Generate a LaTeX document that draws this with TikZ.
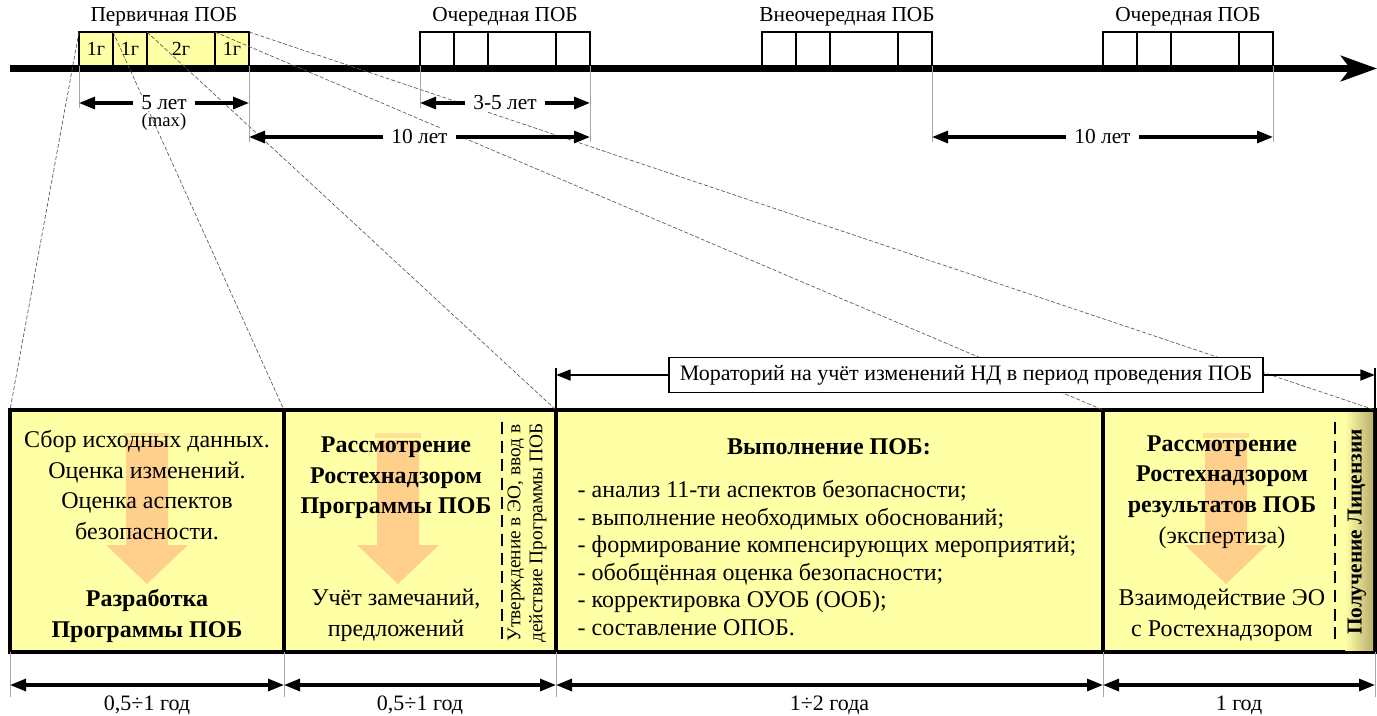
\documentclass[tikz,border=0pt]{standalone}
\usepackage{fontspec}
\setmainfont{Liberation Serif}
\usetikzlibrary{calc,positioning,arrows.meta}

\definecolor{pobyellow}{RGB}{255,255,165}
\definecolor{pobpeach}{RGB}{255,170,120}
\definecolor{pobolive}{RGB}{185,175,110}

\begin{document}
\begin{tikzpicture}[x=0.75pt,y=-0.75pt,
    seg/.style={draw,line width=1.5pt,minimum height=25.5pt,inner sep=0pt,outer sep=0pt,
        anchor=south west,font=\fontsize{15}{18}\selectfont},
    stage/.style={draw,line width=3pt,fill=pobyellow,minimum height=181.5pt,inner sep=0pt,
        outer sep=0pt,anchor=north west},
    head/.style={font=\fontsize{16}{19}\selectfont},
    fan/.style={black!65,dash pattern=on 3pt off 1.5pt,line width=0.5pt},
    guide/.style={black!35,line width=0.6pt},
    dim/.style={line width=2.3pt,{Triangle[length=12pt,width=9pt]}-{Triangle[length=12pt,width=9pt]}},
    lbl/.style={fill=white,inner xsep=6pt,inner ysep=1pt,font=\fontsize{16}{19}\selectfont},
    txt/.style={align=center,font=\fontsize{18}{23}\selectfont},
    txtb/.style={align=center,font=\bfseries\fontsize{18}{23}\selectfont},
    vtxt/.style={rotate=90,align=center,font=\fontsize{14.5}{16.5}\selectfont},
    flow/.style={fill=pobpeach,fill opacity=0.55},
    sepline/.style={line width=2.2pt,dash pattern=on 9pt off 5pt}]

\useasboundingbox (0,0) rectangle (1377,715);

% time axis
\coordinate (ax0) at (10,68.5);
\coordinate (ax1) at (1377,68.5);
\draw[line width=5pt,-{Stealth[length=27pt,width=19pt,inset=7pt]}] (ax0) -- (ax1);

% primary review
\node[seg,fill=pobyellow,minimum width=25.5pt] (p1) at (79,66) {1г};
\node[seg,fill=pobyellow,minimum width=25.5pt] (p2) at (p1.south east) {1г};
\node[seg,fill=pobyellow,minimum width=51pt] (p3) at (p2.south east) {2г};
\node[seg,fill=pobyellow,minimum width=25.5pt] (p4) at (p3.south east) {1г};
\node[head] (p0) at ($(p1.north west)!0.5!(p4.north east)+(0,-15)$) {Первичная ПОБ};

% next reviews
\foreach \x/\n/\lab in {420/q/Очередная ПОБ,762/r/Внеочередная ПОБ,1103/t/Очередная ПОБ}{
    \node[seg,minimum width=25.5pt] (\n1) at (\x,66) {};
    \node[seg,minimum width=25.5pt] (\n2) at (\n1.south east) {};
    \node[seg,minimum width=51pt] (\n3) at (\n2.south east) {};
    \node[seg,minimum width=25.5pt] (\n4) at (\n3.south east) {};
    \node[head] (\n0) at ($(\n1.north west)!0.5!(\n4.north east)+(0,-15)$) {\lab};
}

% stages
\node[stage,minimum width=205.5pt] (b1) at (10,410) {};
\node[stage,minimum width=204pt] (b2) at (b1.north east) {};
\node[stage,minimum width=410.25pt] (b3) at (b2.north east) {};
\node[stage,minimum width=204pt] (b4) at (b3.north east) {};
\shade[left color=pobyellow,right color=pobolive] ($(b4.north east)+(-30,2)$) rectangle ($(b4.south east)+(-2,-2)$);
\draw[sepline] ($(b2.north east)+(-54,12)$) -- ($(b2.south east)+(-54,-12)$);
\draw[sepline] ($(b4.north east)+(-40,12)$) -- ($(b4.south east)+(-40,-12)$);

% zoom lines
\foreach \i in {1,...,4}
    \draw[fan] (p\i.north west) -- (b\i.north west);
\draw[fan] (p4.north east) -- (b4.north east);

% periods on the axis
\draw[guide] (p1.south west) -- ++(0,42);
\draw[guide] (p4.south east) -- ++(0,76);
\draw[guide] (q1.south west) -- ++(0,42);
\draw[guide] (q4.south east) -- ++(0,76);
\draw[guide] (r4.south east) -- ++(0,76);
\draw[guide] (t4.south east) -- ++(0,76);
\draw[dim] ($(p1.south west)+(0,37)$) -- node[lbl] (d5) {5 лет} ($(p4.south east)+(0,37)$);
\node[font=\fontsize{14}{16}\selectfont,below=-3pt of d5] (dmax) {(max)};
\draw[dim] ($(q1.south west)+(0,37)$) -- node[lbl] (d35) {3-5 лет} ($(q4.south east)+(0,37)$);
\draw[dim] ($(p4.south east)+(0,71)$) -- node[lbl] (d10a) {10 лет} ($(q4.south east)+(0,71)$);
\draw[dim] ($(r4.south east)+(0,71)$) -- node[lbl] (d10b) {10 лет} ($(t4.south east)+(0,71)$);

% moratorium
\node[draw,fill=white,line width=1pt,minimum height=26pt,inner xsep=8pt,
    font=\fontsize{16.5}{19}\selectfont] (mor) at (966,375)
    {Мораторий на учёт изменений НД в период проведения ПОБ};
\draw[line width=2.2pt] (b3.north west) -- ++(0,-42) coordinate (m0);
\draw[line width=2.2pt] (b4.north east) -- ++(0,-42) coordinate (m1);
\draw[line width=2pt,-{Triangle[length=11pt,width=8pt]}] (mor.west) -- (mor.west -| m0);
\draw[line width=2pt,-{Triangle[length=11pt,width=8pt]}] (mor.east) -- (mor.east -| m1);

% flow arrows
\foreach \cx in {147,398,1226}{
    \fill[flow] (\cx-21,440) -- (\cx+21,440) -- (\cx+21,545) -- (\cx+41,545) -- (\cx,584)
        -- (\cx-41,545) -- (\cx-21,545) -- cycle;
    \fill[flow,fill opacity=0.35] (\cx-23,433) rectangle (\cx+23,438);
}

% stage texts
\node[txt] (t1a) at (147,485) {Сбор исходных данных.\\Оценка изменений.\\Оценка аспектов\\безопасности.};
\node[txtb] (t1b) at (147,616) {Разработка\\Программы ПОБ};
\node[txtb] (t2a) at (396,478) {Рассмотрение\\Ростехнадзором\\Программы ПОБ};
\node[txt] (t2b) at (396,615) {Учёт замечаний,\\предложений};
\node[vtxt] (t2c) at (527,533) {Утверждение в ЭО, ввод в\\действие Программы ПОБ};
\node[txtb] (t3a) at (829,447) {Выполнение ПОБ:};
\node[align=left,anchor=west,font=\fontsize{18}{20.7}\selectfont] (t3b) at (573,558)
    {- анализ 11-ти аспектов безопасности;\\- выполнение необходимых обоснований;\\
     - формирование компенсирующих мероприятий;\\- обобщённая оценка безопасности;\\
     - корректировка ОУОБ (ООБ);\\- составление ОПОБ.};
\node[txtb] (t4a) at (1222,492) {Рассмотрение\\Ростехнадзором\\результатов ПОБ\\{\mdseries(экспертиза)}};
\node[txt] (t4b) at (1222,615) {Взаимодействие ЭО\\с Ростехнадзором};
\node[vtxt,font=\bfseries\fontsize{16}{18}\selectfont] (t4c) at (1357,532) {Получение Лицензии};

% durations
\foreach \i in {1,...,4}
    \draw[guide] (b\i.south west) -- ++(0,45);
\draw[guide] (b4.south east) -- ++(0,45);
\foreach \i/\lab in {1/{0,5÷1 год},2/{0,5÷1 год},3/{1÷2 года},4/{1 год}}
    \draw[dim] ($(b\i.south west)+(0,33)$) -- node[below=4pt,font=\fontsize{16.5}{19}\selectfont] (y\i) {\lab}
        ($(b\i.south east)+(0,33)$);
\end{tikzpicture}
\end{document}
